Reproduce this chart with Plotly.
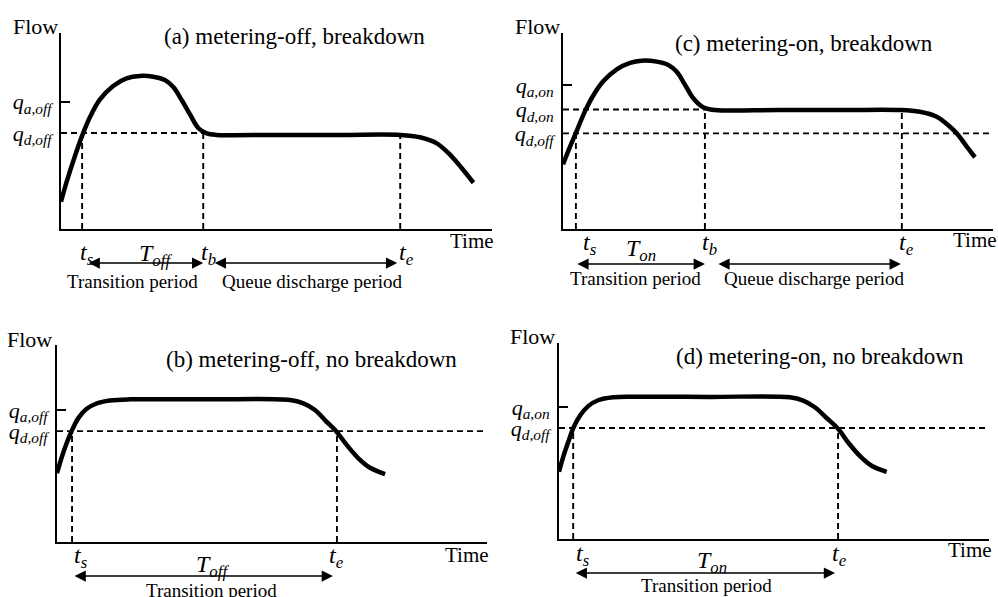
import plotly.graph_objects as go

W, H = 998, 597
FONT = "Liberation Serif"
X_MAX, Y_MAX = 100, 100

# ---------------- data (schematic time / flow units, 0-100) ----------------
# (a) metering-off, breakdown
a_time = [0, 1.3, 3.2, 4.8, 6.7, 9.0, 12.1, 15.2, 18.3, 21.4, 24.1, 26.1, 28.0,
          30.0, 31.9, 33.8, 36.1, 50, 65, 78.7, 83.3, 87.2, 90.3, 93.0, 95.7]
a_flow = [13.9, 24.0, 37.0, 47.0, 57.0, 66.0, 73.0, 76.9, 78.1, 77.7, 76.0, 72.3, 65.8,
          58.2, 51.4, 48.8, 48.0, 48.0, 48.0, 48.0, 46.8, 43.7, 37.8, 31.0, 23.6]
a_qa, a_qd = 65.0, 49.0
a_ts, a_tb, a_te = 4.9, 33.0, 78.7

# (c) metering-on, breakdown
c_time = [0, 1.5, 3.0, 5.1, 7.0, 9.4, 12.5, 15.6, 18.3, 21.8, 24.5, 26.4, 28.4,
          30.3, 32.6, 35.3, 50, 65, 78.4, 83.0, 86.9, 90.0, 91.9, 93.9, 95.8]
c_flow = [33.0, 41.3, 49.0, 60.0, 68.0, 75.5, 81.5, 84.8, 85.9, 85.4, 83.7, 80.3, 73.5,
          66.7, 62.1, 60.7, 60.7, 60.7, 60.7, 59.8, 57.3, 52.2, 48.0, 42.0, 36.6]
c_qa, c_qd_on, c_qd_off = 73.5, 61.0, 48.8
c_ts, c_tb, c_te = 3.0, 33.0, 78.8

# (b) metering-off, no breakdown
b_time = [0, 1.1, 2.3, 3.4, 5.0, 6.9, 9.2, 12.3, 17.0, 35, 54.2, 57.3, 60.0,
          62.3, 65.0, 67.4, 70.1, 72.8, 76.3]
b_flow = [34.9, 43.0, 50.5, 56.3, 63.0, 67.6, 70.3, 71.8, 72.4, 72.4, 72.1, 70.4, 67.0,
          61.9, 56.0, 49.2, 42.5, 37.7, 34.5]
b_qa, b_qd = 67.0, 56.3
b_ts, b_te = 3.5, 65.1

# (d) metering-on, no breakdown
d_time = [0, 1.0, 2.2, 3.3, 4.9, 6.8, 9.1, 12.6, 17.3, 35, 53.7, 56.8, 59.5,
          62.3, 65.0, 67.3, 70.0, 72.7, 76.2]
d_flow = [34.3, 42.0, 49.8, 56.5, 63.0, 67.8, 70.8, 72.3, 72.6, 72.5, 72.3, 70.6, 67.2,
          61.6, 56.0, 49.1, 42.3, 37.4, 34.3]
d_qa, d_qd = 67.3, 56.6
d_ts, d_te = 3.3, 64.9

# tick / label texts
def q(sub):
    return f"<i>q</i><sub><i>{sub}</i></sub>"

def t(sub):
    return f"<i>t</i><sub><i>{sub}</i></sub>"

a_ylabels = [q("a,off"), q("d,off")]
c_ylabels = [q("a,on"), q("d,on"), q("d,off")]
b_ylabels = [q("a,off"), q("d,off")]
d_ylabels = [q("a,on"), q("d,off")]
titles = {"a": "(a) metering-off, breakdown", "c": "(c) metering-on, breakdown",
          "b": "(b) metering-off, no breakdown", "d": "(d) metering-on, no breakdown"}

# ---------------- layout geometry (pixel boxes of each axes) ----------------
geo = {"a": (61, 492, 33, 229), "c": (563, 993, 33, 229),
       "b": (57, 487, 345, 542), "d": (559, 989, 343, 539)}
ids = {"a": "", "c": "2", "b": "3", "d": "4"}

def PX(px):
    return px / W

def PY(py):
    return 1 - py / H

fig = go.Figure()
annotations = []

def dashed(panel, xs, ys):
    i = ids[panel]
    fig.add_trace(go.Scatter(x=xs, y=ys, mode="lines", xaxis="x" + i, yaxis="y" + i,
                             line=dict(color="black", width=1.9, dash="6px,4px"),
                             hoverinfo="skip", showlegend=False))

def curve(panel, xs, ys):
    i = ids[panel]
    fig.add_trace(go.Scatter(x=xs, y=ys, mode="lines", xaxis="x" + i, yaxis="y" + i,
                             line=dict(color="black", width=4.5, shape="spline", smoothing=1.0),
                             hoverinfo="skip", showlegend=False))

def text(s, px, py, size=20, **kw):
    annotations.append(dict(text=s, x=PX(px), y=PY(py), xref="paper", yref="paper",
                            showarrow=False, xanchor="center", yanchor="middle",
                            font=dict(family=FONT, size=size, color="black"), **kw))

def tlabel(panel, s, xval, xshift, py, size=24):
    annotations.append(dict(text=s, x=xval, xref="x" + ids[panel], xshift=xshift,
                            y=PY(py), yref="paper", showarrow=False,
                            xanchor="center", yanchor="middle",
                            font=dict(family=FONT, size=size, color="black")))

def arrow(panel, x0, x1, py, s0, s1):
    annotations.append(dict(x=x1, y=PY(py), xref="x" + ids[panel], yref="paper",
                            ax=x0, ay=0, axref="x" + ids[panel], ayref="pixel",
                            text="", showarrow=True, arrowside="end+start",
                            arrowhead=2, arrowsize=1.5, arrowwidth=1.5, arrowcolor="black",
                            standoff=s1, startstandoff=s0))

# ----- panel a -----
dashed("a", [0, a_tb, None, a_ts, a_ts, None, a_tb, a_tb, None, a_te, a_te],
       [a_qd, a_qd, None, 0, a_qd, None, 0, a_qd, None, 0, a_qd])
curve("a", a_time, a_flow)
# ----- panel c -----
dashed("c", [0, c_tb, None, 0, X_MAX, None, c_ts, c_ts, None, c_tb, c_tb, None, c_te, c_te],
       [c_qd_on, c_qd_on, None, c_qd_off, c_qd_off, None, 0, c_qd_off, None, 0, c_qd_on, None, 0, c_qd_on])
curve("c", c_time, c_flow)
# ----- panel b -----
dashed("b", [0, X_MAX, None, b_ts, b_ts, None, b_te, b_te],
       [b_qd, b_qd, None, 0, b_qd, None, 0, b_qd])
curve("b", b_time, b_flow)
# ----- panel d -----
dashed("d", [0, X_MAX, None, d_ts, d_ts, None, d_te, d_te],
       [d_qd, d_qd, None, 0, d_qd, None, 0, d_qd])
curve("d", d_time, d_flow)

ytick = {"a": ([a_qa, a_qd], a_ylabels, a_qa),
         "c": ([c_qa, c_qd_on, c_qd_off], c_ylabels, c_qa),
         "b": ([b_qa, b_qd], b_ylabels, b_qa),
         "d": ([d_qa, d_qd], d_ylabels, d_qa)}

layout_axes = {}
for p, (l, r, top, bot) in geo.items():
    i = ids[p]
    layout_axes["xaxis" + i] = dict(domain=[PX(l), PX(r)], range=[0, X_MAX], anchor="y" + i,
                                    showline=True, linecolor="black", linewidth=2,
                                    showgrid=False, zeroline=False, showticklabels=False,
                                    ticks="", fixedrange=True)
    vals, txts, qa = ytick[p]
    layout_axes["yaxis" + i] = dict(domain=[PY(bot), PY(top)], range=[0, Y_MAX], anchor="x" + i,
                                    showline=True, linecolor="black", linewidth=2,
                                    showgrid=False, zeroline=False, ticks="",
                                    tickmode="array", tickvals=vals, ticktext=txts,
                                    tickfont=dict(family=FONT, size=22, color="black"),
                                    ticklabelstandoff=3,
                                    minor=dict(tickmode="array", tickvals=[qa], ticks="inside",
                                               ticklen=9, tickwidth=2, tickcolor="black"),
                                    fixedrange=True)

# ----- text: panel a -----
text("Flow", 35, 27, 22)
text(titles["a"], 294, 37, 23)
text("Time", 472, 241, 21)
tlabel("a", t("s"), a_ts, 5, 254)
tlabel("a", t("b"), a_tb, 5, 254)
tlabel("a", t("e"), a_te, 6, 254)
text("<i>T</i><sub><i>off</i></sub>", 155, 255, 24)
arrow("a", a_ts, a_tb, 263, 5, 0)
arrow("a", a_tb, a_te, 263, 10, 3)
text("Transition period", 132, 281, 19)
text("Queue discharge period", 312, 281, 19)

# ----- text: panel c -----
text("Flow", 537, 27, 22)
text(titles["c"], 804, 43, 23)
text("Time", 975, 240, 21)
tlabel("c", t("s"), c_ts, 14, 244)
tlabel("c", t("b"), c_tb, 5, 244)
tlabel("c", t("e"), c_te, 5, 244)
text("<i>T</i><sub><i>on</i></sub>", 641, 250, 24)
arrow("c", c_ts, c_tb, 264, 0, 0)
arrow("c", c_tb, c_te, 264, 12, 1)
text("Transition period", 635, 278, 19)
text("Queue discharge period", 814, 278, 19)

# ----- text: panel b -----
text("Flow", 29, 339, 22)
text(titles["b"], 311, 359, 23)
text("Time", 467, 555, 21)
tlabel("b", t("s"), b_ts, 9, 557)
tlabel("b", t("e"), b_te, 0, 557)
text("<i>T</i><sub><i>off</i></sub>", 212, 566, 24)
arrow("b", b_ts, b_te, 576, 1, 4)
text("Transition period", 211, 590, 19)

# ----- text: panel d -----
text("Flow", 532, 336, 22)
text(titles["d"], 820, 356, 23)
text("Time", 970, 550, 21)
tlabel("d", t("s"), d_ts, 10, 555)
tlabel("d", t("e"), d_te, 1, 555)
text("<i>T</i><sub><i>on</i></sub>", 712, 562, 24)
arrow("d", d_ts, d_te, 573, 1, 3)
text("Transition period", 706, 585, 19)

fig.update_layout(width=W, height=H, margin=dict(l=0, r=0, t=0, b=0),
                  paper_bgcolor="white", plot_bgcolor="white",
                  showlegend=False, annotations=annotations,
                  font=dict(family=FONT, color="black"), **layout_axes)

fig.write_html("out.html", config={"displayModeBar": False},
               post_script="document.body.style.margin='0';document.body.style.overflow='hidden';")
